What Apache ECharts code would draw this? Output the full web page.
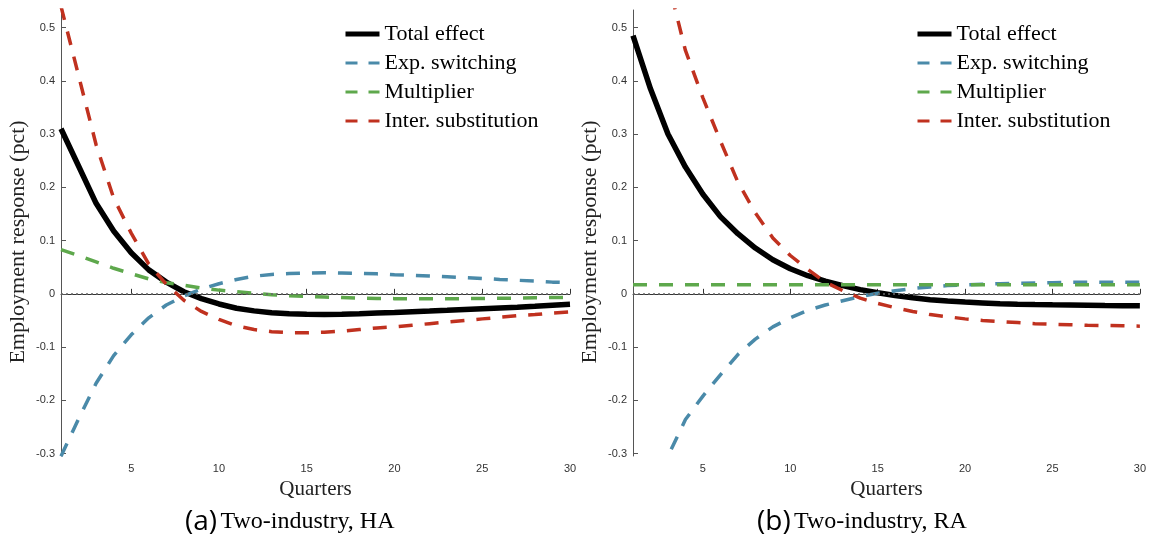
<!DOCTYPE html>
<html>
<head>
<meta charset="utf-8">
<script src="https://cdn.jsdelivr.net/npm/echarts@6.0.0/dist/echarts.min.js"></script>
<style>
  html, body { margin: 0; padding: 0; background: #fff; }
  #main { width: 1149px; height: 546px; }
</style>
</head>
<body>
<div id="main"></div>
<script>
// quarters after the shock
var quarters = [1, 2, 3, 4, 5, 6, 7, 8, 9, 10, 11, 12, 13, 14, 15,
                16, 17, 18, 19, 20, 21, 22, 23, 24, 25, 26, 27, 28, 29, 30];

// (a) two-industry, HA
var haTotal = [0.310, 0.240, 0.170, 0.118, 0.077, 0.045, 0.022, 0.004, -0.009, -0.019,
               -0.027, -0.032, -0.0355, -0.0375, -0.0385, -0.0388, -0.0385, -0.0375, -0.0362, -0.035,
               -0.0337, -0.0324, -0.031, -0.0295, -0.028, -0.0265, -0.025, -0.0232, -0.0212, -0.0194];
var haSwitch = [-0.305, -0.235, -0.168, -0.116, -0.077, -0.045, -0.021, -0.004, 0.009, 0.019,
                0.027, 0.033, 0.0365, 0.038, 0.039, 0.0395, 0.039, 0.0385, 0.0375, 0.036,
                0.035, 0.0335, 0.032, 0.0305, 0.029, 0.027, 0.0255, 0.024, 0.022, 0.021];
var haMult = [0.083, 0.072, 0.060, 0.048, 0.038, 0.028, 0.021, 0.016, 0.011, 0.007,
              0.004, 0.001, -0.0015, -0.0035, -0.005, -0.006, -0.007, -0.008, -0.0087, -0.009,
              -0.009, -0.009, -0.009, -0.009, -0.0087, -0.0083, -0.008, -0.0075, -0.007, -0.0065];
var haSubst = [0.540, 0.410, 0.280, 0.180, 0.114, 0.056, 0.018, -0.012, -0.033, -0.048,
               -0.060, -0.067, -0.071, -0.073, -0.073, -0.072, -0.070, -0.067, -0.064, -0.062,
               -0.059, -0.056, -0.053, -0.050, -0.047, -0.044, -0.041, -0.039, -0.036, -0.034];

// (b) two-industry, RA
var raTotal = [0.485, 0.385, 0.300, 0.238, 0.187, 0.145, 0.113, 0.086, 0.064, 0.047,
               0.034, 0.024, 0.0155, 0.008, 0.002, -0.003, -0.0075, -0.011, -0.0135, -0.0155,
               -0.017, -0.0185, -0.0195, -0.0202, -0.0207, -0.021, -0.0215, -0.022, -0.0222, -0.0225];
var raSwitch = [-0.525, -0.400, -0.305, -0.236, -0.192, -0.152, -0.114, -0.085, -0.062, -0.045,
                -0.031, -0.021, -0.013, -0.005, 0.001, 0.006, 0.010, 0.013, 0.0155, 0.0167,
                0.018, 0.019, 0.020, 0.0205, 0.021, 0.0215, 0.022, 0.022, 0.022, 0.022];
var raMult = [0.017, 0.017, 0.017, 0.017, 0.017, 0.017, 0.017, 0.017, 0.017, 0.017,
              0.017, 0.017, 0.017, 0.017, 0.017, 0.017, 0.017, 0.017, 0.017, 0.017,
              0.017, 0.017, 0.017, 0.017, 0.017, 0.017, 0.017, 0.017, 0.017, 0.017];
var raSubst = [0.993, 0.768, 0.588, 0.457, 0.368, 0.287, 0.210, 0.152, 0.105, 0.072,
               0.046, 0.022, 0.006, -0.008, -0.018, -0.026, -0.033, -0.039, -0.043, -0.047,
               -0.050, -0.052, -0.054, -0.056, -0.057, -0.058, -0.059, -0.0595, -0.060, -0.0607];

var names = ['Total effect', 'Exp. switching', 'Multiplier', 'Inter. substitution'];
var colors = ['#000000', '#4a8aa9', '#5ea84c', '#c0311f'];
var xTicks = [5, 10, 15, 20, 25, 30];
var yTicks = [-0.3, -0.2, -0.1, 0, 0.1, 0.2, 0.3, 0.4, 0.5];

var serif = 'Liberation Serif';
var sans = 'Liberation Sans';

function pairs(ys) {
  return quarters.map(function (q, i) { return [q, ys[i]]; });
}

function lineStyleFor(k) {
  return k === 0 ? { color: colors[k], width: 5.5 } :
    { color: colors[k], width: 3.5, type: [14, 12] };
}

function xAxis(idx) {
  return {
    type: 'value', gridIndex: idx, min: 1, max: 30,
    name: 'Quarters', nameLocation: 'middle', nameGap: 20,
    nameTextStyle: { fontFamily: serif, fontSize: 21, color: '#222' },
    axisLine: { lineStyle: { color: '#333', width: 1 } },
    axisTick: { inside: true, length: 5, customValues: xTicks, lineStyle: { color: '#333' } },
    axisLabel: { customValues: xTicks, fontFamily: sans, fontSize: 11, color: '#333', margin: 7 },
    splitLine: { show: false }
  };
}

function yAxis(idx) {
  return {
    type: 'value', gridIndex: idx, min: -0.3045, max: 0.533,
    name: 'Employment response (pct)', nameLocation: 'middle', nameGap: 32,
    nameTextStyle: { fontFamily: serif, fontSize: 22, color: '#222', padding: [0, 18, 0, 0] },
    axisLine: { show: true, lineStyle: { color: '#555', width: 1 } },
    axisTick: { inside: true, length: 5, customValues: yTicks, lineStyle: { color: '#555' } },
    axisLabel: {
      customValues: yTicks, fontFamily: sans, fontSize: 11, color: '#333', margin: 6,
      formatter: function (v) { return v === 0 ? '0' : v.toFixed(1); }
    },
    splitLine: { show: false }
  };
}

function panelSeries(idx, sets) {
  var out = [{
    type: 'line', xAxisIndex: idx, yAxisIndex: idx, data: [], z: 1, silent: true,
    markLine: {
      silent: true, symbol: ['none', 'none'], label: { show: false },
      lineStyle: { type: [2, 3], color: '#666', width: 1.6 },
      data: [{ yAxis: 0 }]
    }
  }];
  sets.forEach(function (ys, k) {
    out.push({
      name: names[k], type: 'line', xAxisIndex: idx, yAxisIndex: idx,
      data: pairs(ys), showSymbol: false, symbol: 'none', smooth: false, z: 2 + k,
      clip: true,
      lineStyle: lineStyleFor(k),
      itemStyle: { color: colors[k] }
    });
  });
  return out;
}

function legend(left) {
  return {
    data: names.map(function (n, k) {
      return { name: n, lineStyle: k === 0 ? { width: 5, color: colors[k] } :
        { width: 3, color: colors[k], type: [12, 11] } };
    }),
    orient: 'vertical', left: left, top: 23, padding: 0,
    itemWidth: 34, itemHeight: 20, itemGap: 7, itemTextGap: 3,
    itemStyle: { opacity: 0 },
    textStyle: { fontFamily: serif, fontSize: 22, color: '#000', lineHeight: 20 },
    selectedMode: false
  };
}

function caption(x, letter, text) {
  return {
    type: 'text', left: x, top: 508,
    style: {
      text: '{a|(' + letter + ')} {b|' + text + '}',
      rich: {
        a: { fontFamily: 'Open Sans', fontSize: 28, fill: '#000' },
        b: { fontFamily: serif, fontSize: 24, fill: '#000' }
      }
    }
  };
}

var chart = echarts.init(document.getElementById('main'));
chart.setOption({
  animation: false,
  backgroundColor: '#fff',
  grid: [
    { left: 61, top: 10, width: 509, height: 446 },
    { left: 633, top: 10, width: 507, height: 446 }
  ],
  xAxis: [xAxis(0), xAxis(1)],
  yAxis: [yAxis(0), yAxis(1)],
  legend: [legend(343), legend(915)],
  series: panelSeries(0, [haTotal, haSwitch, haMult, haSubst])
    .concat(panelSeries(1, [raTotal, raSwitch, raMult, raSubst])),
  graphic: [caption(185, 'a', 'Two-industry, HA'), caption(757, 'b', 'Two-industry, RA')]
});
</script>
</body>
</html>
